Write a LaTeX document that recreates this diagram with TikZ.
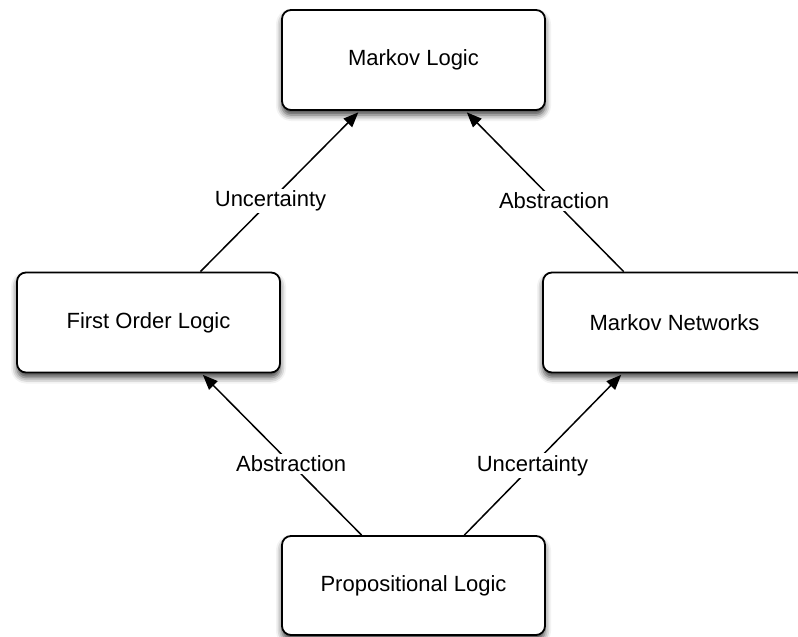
\documentclass[tikz,border=0pt]{standalone}
\usepackage{fontspec}
\setmainfont{Liberation Sans}
\usetikzlibrary{arrows.meta,calc,shadows.blur}
\tikzset{
  box/.style={draw=black, line width=1.8pt, rounded corners=9pt, fill=white,
    minimum width=263pt, minimum height=100pt, inner sep=0pt,
    font=\fontsize{22}{26}\selectfont,
    blur shadow={shadow xshift=0pt, shadow yshift=-5pt, shadow blur radius=6pt, shadow opacity=75}},
  conn/.style={line width=1.5pt, -{Triangle[length=15pt,width=12pt]}, shorten >=2pt},
  lbl/.style={fill=white, inner sep=2pt, font=\fontsize{22}{26}\selectfont}
}
\begin{document}
\begin{tikzpicture}[x=1pt,y=-1pt]
\useasboundingbox (0,0) rectangle (798,637);
\clip (0,0) rectangle (798,637);
\node[box] (ml) at (413.5,60) {Markov Logic};
\node[box] (fol) at (148.5,322.5) {First Order Logic};
\node[box] (mn) at (674.5,322.5) {Markov Networks};
\node[box, minimum height=99pt] (pl) at (413.5,585.5) {Propositional Logic};
\draw[conn] ($(fol.north west)!0.696!(fol.north east)$) -- node[lbl, pos=0.44] (l1) {Uncertainty} ($(ml.south west)!0.297!(ml.south east)$);
\draw[conn] ($(mn.north west)!0.308!(mn.north east)$) -- node[lbl, pos=0.44] (l2) {Abstraction} ($(ml.south west)!0.696!(ml.south east)$);
\draw[conn] ($(pl.north west)!0.304!(pl.north east)$) -- node[lbl, pos=0.44] (l3) {Abstraction} ($(fol.south west)!0.70!(fol.south east)$);
\draw[conn] ($(pl.north west)!0.692!(pl.north east)$) -- node[lbl, pos=0.43] (l4) {Uncertainty} ($(mn.south west)!0.304!(mn.south east)$);
\end{tikzpicture}
\end{document}
